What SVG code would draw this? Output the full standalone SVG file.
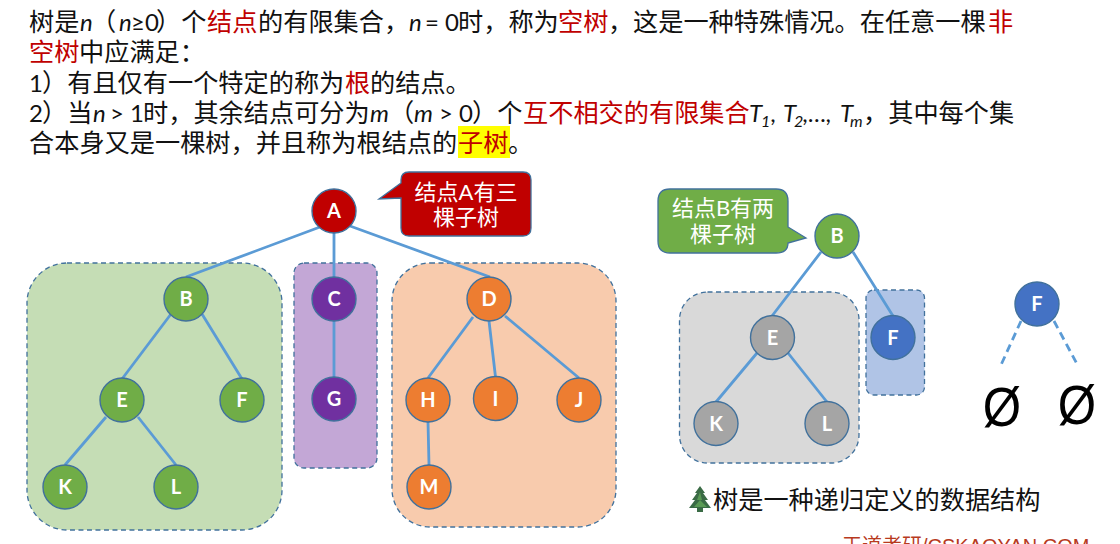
<svg xmlns="http://www.w3.org/2000/svg" width="1120" height="544" viewBox="0 0 1120 544">
<style>
text{font-family:"Lato","Noto Sans CJK SC",sans-serif}
.t{font-size:25.2px;fill:#111}
.r{fill:#c00000}
.i{font-style:italic;font-size:24px}
.l{font-size:24px}
.s{font-style:italic;font-size:16px}
.p{stroke:#41719c;stroke-width:1.3;stroke-dasharray:5 3.5}
.e{stroke:#5b9bd5;stroke-width:2.8;fill:none}
.n circle{stroke:#41719c;stroke-width:1.4}
.n text{font-size:20px;font-weight:700;fill:#fff;text-anchor:middle}
.g circle{fill:#70ad47}.o circle{fill:#ed7d31}.v circle{fill:#7030a0}.y circle{fill:#a5a5a5}.b circle{fill:#4472c4}.d circle{fill:#c00000}
.c{font-size:22px;fill:#fff;text-anchor:middle}
.z{font-size:56px;fill:#000;text-anchor:middle;font-family:"Liberation Sans",sans-serif}
</style>
<g id="text">
<rect x="458" y="126" width="52" height="32" fill="#ffff00"/>
<text class="t" y="31"><tspan x="29">树是</tspan><tspan x="80" class="i">n</tspan><tspan x="91">（</tspan><tspan x="119" class="i">n</tspan><tspan x="131" class="l">≥0</tspan><tspan x="156">）个</tspan><tspan x="207" class="r">结点</tspan><tspan x="258">的有限集合，</tspan><tspan x="409" class="i">n</tspan><tspan x="425" class="l">= 0</tspan><tspan x="458">时，称为</tspan><tspan x="558" class="r">空树</tspan><tspan x="608">，</tspan><tspan x="633">这是一种特殊情况。在任意一棵</tspan><tspan x="988" class="r">非</tspan></text>
<text class="t" y="61"><tspan x="29" class="r">空树</tspan><tspan x="79">中应满足：</tspan></text>
<text class="t" y="92"><tspan x="29" class="l">1</tspan><tspan x="42">）有且仅有一个特定的称为</tspan><tspan x="345" class="r">根</tspan><tspan x="370">的结点。</tspan></text>
<text class="t" y="122"><tspan x="29" class="l">2</tspan><tspan x="42">）当</tspan><tspan x="93" class="i">n</tspan><tspan x="110" class="l">&gt; 1</tspan><tspan x="143">时，其余结点可分为</tspan><tspan x="370" class="i">m</tspan><tspan x="389">（</tspan><tspan x="414" class="i">m</tspan><tspan x="439" class="l">&gt; 0</tspan><tspan x="472">）个</tspan><tspan x="523" class="r">互不相交的有限集合</tspan><tspan x="749" class="i">T</tspan><tspan x="761" class="s" dy="5">1</tspan><tspan x="771" class="i" dy="-5">,</tspan><tspan x="783" class="i">T</tspan><tspan x="794" class="s" dy="5">2</tspan><tspan x="803" class="i" dy="-5">,…,</tspan><tspan x="840" class="i">T</tspan><tspan x="850" class="s" dy="5">m</tspan><tspan x="863" dy="-5">，其中每个集</tspan></text>
<text class="t" y="152"><tspan x="29">合本身又是一棵树，并且称为根结点的</tspan><tspan x="458" class="r">子树</tspan><tspan x="508">。</tspan></text>
</g>
<g id="panels">
<rect class="p" x="27" y="263" width="255" height="267" rx="40" fill="#c5ddb5"/>
<rect class="p" x="294" y="263" width="83" height="205" rx="10" fill="#c3a7d6"/>
<rect class="p" x="392" y="263" width="224" height="264" rx="38" fill="#f8cbad"/>
<rect class="p" x="679.5" y="292" width="179.5" height="171" rx="28" fill="#d9d9d9"/>
<rect class="p" x="866" y="290" width="58.5" height="105" rx="8" fill="#b0c4e6"/>
</g>
<g id="connectors">
<path class="e" d="M320 227L186 277M334 233V277M350 226L490 277M171 314L122 379M202 314L242 379M334 321V377M473 317L428 378M489 321L495.5 377M505 316L579 378M106 417L65 465M138 417L176 465M428 422L429 465M821 252L772 316M853 252L893 316M757 353L716 402M788 353L827 402"/>
<path class="e" stroke-dasharray="8 5" d="M1021 321L1001 365M1054 321L1077 364"/>
</g>
<g id="callout-a">
<path d="M409 172H523Q531 172 531 180V228Q531 236 523 236H409Q401 236 401 228V198L379 199L401 183V180Q401 172 409 172Z" fill="#c00000" stroke="#41719c" stroke-width="1.3"/>
<text class="c" x="466" y="200">结点A有三</text><text class="c" x="466" y="225">棵子树</text>
</g>
<g id="callout-b">
<path d="M670 189H776Q788 189 788 201V227L806 238L788 243Q788 253 776 253H670Q658 253 658 241V201Q658 189 670 189Z" fill="#70ad47" stroke="#41719c" stroke-width="1.3"/>
<text class="c" x="723" y="216">结点B有两</text><text class="c" x="723" y="242">棵子树</text>
</g>
<g id="node-A" class="n d"><circle cx="334" cy="211" r="22"/><text x="334" y="218">A</text></g>
<g id="node-B" class="n g"><circle cx="186" cy="299" r="22"/><text x="186" y="306">B</text></g>
<g id="node-C" class="n v"><circle cx="334" cy="299" r="22"/><text x="334" y="306">C</text></g>
<g id="node-D" class="n o"><circle cx="489" cy="299" r="22"/><text x="489" y="306">D</text></g>
<g id="node-E" class="n g"><circle cx="122" cy="400" r="22"/><text x="122" y="407">E</text></g>
<g id="node-F" class="n g"><circle cx="242" cy="400" r="22"/><text x="242" y="407">F</text></g>
<g id="node-G" class="n v"><circle cx="334" cy="399" r="22"/><text x="334" y="406">G</text></g>
<g id="node-H" class="n o"><circle cx="428" cy="400" r="22"/><text x="428" y="407">H</text></g>
<g id="node-I" class="n o"><circle cx="495.5" cy="398.5" r="22"/><text x="495.5" y="405.5">I</text></g>
<g id="node-J" class="n o"><circle cx="579" cy="400" r="22"/><text x="579" y="407">J</text></g>
<g id="node-K" class="n g"><circle cx="65" cy="487" r="22"/><text x="65" y="494">K</text></g>
<g id="node-L" class="n g"><circle cx="176" cy="487" r="22"/><text x="176" y="494">L</text></g>
<g id="node-M" class="n o"><circle cx="429" cy="487" r="22"/><text x="429" y="494">M</text></g>
<g id="node-B2" class="n g"><circle cx="837" cy="236" r="22"/><text x="837" y="243">B</text></g>
<g id="node-E2" class="n y"><circle cx="772.5" cy="337.5" r="22"/><text x="772.5" y="344.5">E</text></g>
<g id="node-F2" class="n b"><circle cx="893" cy="337.5" r="22"/><text x="893" y="344.5">F</text></g>
<g id="node-K2" class="n y"><circle cx="716" cy="423.5" r="22"/><text x="716" y="430.5">K</text></g>
<g id="node-L2" class="n y"><circle cx="827" cy="423.5" r="22"/><text x="827" y="430.5">L</text></g>
<g id="node-F3" class="n b"><circle cx="1037" cy="304" r="22"/><text x="1037" y="311">F</text></g>
<g id="empty"><text class="z" transform="translate(1002 426) scale(.88 1)">Ø</text><text class="z" transform="translate(1077 424) scale(.88 1)">Ø</text></g>
<g id="note">
<path d="M700 486L695 493H697L692 500H695L689 508H697V512H703V508H711L705 500H708L703 493H705Z" fill="#3a6b45"/>
<path d="M697 500L700 492L702 500ZM694 507L700 500L707 507Z" fill="#5a9a55"/>
<text x="713" y="509" font-size="25.2" fill="#111">树是一种递归定义的数据结构</text>
</g>
<text x="842" y="553" font-size="20" fill="#b83a1e" style="font-family:'Liberation Sans','Noto Sans CJK SC',sans-serif">王道考研/CSKAOYAN.COM</text>
</svg>
